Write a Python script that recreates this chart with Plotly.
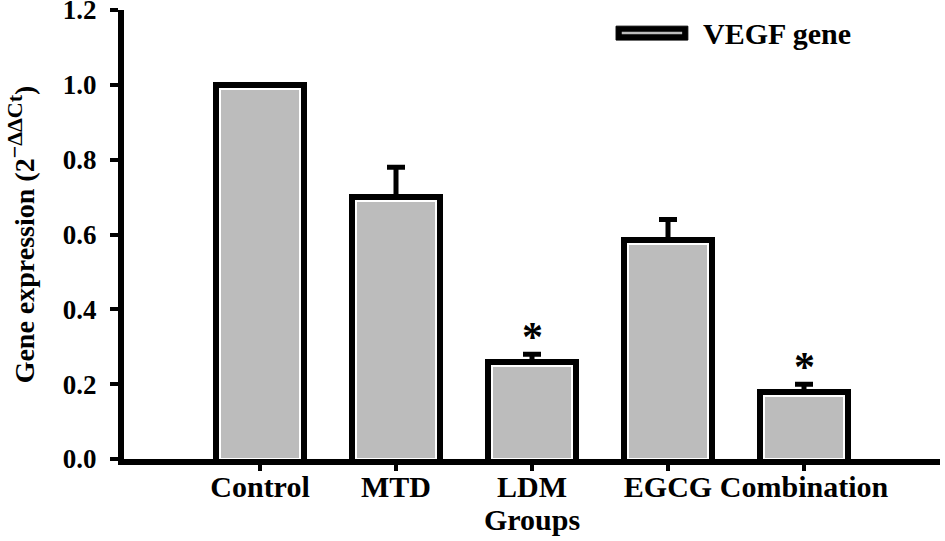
import plotly.graph_objects as go

groups = ["Control", "MTD", "LDM", "EGCG", "Combination"]
expression = [1.0, 0.70, 0.26, 0.585, 0.18]
err_up = [0.0, 0.08, 0.02, 0.055, 0.02]
signif = ["", "", "*", "", "*"]

FONT = "Liberation Serif"
GRAY = "#bcbcbc"
BAR_W = 0.64
PX_PER_UNIT = 374.0  # rough pixels per 1.0 on y, used for the white inner outline
PX_PER_CAT = 136.0


def bold(size):
    return dict(family=FONT, size=size, color="black", weight="bold")


fig = go.Figure()

# outer bar: thick black outline + error bar
fig.add_trace(go.Bar(
    x=groups, y=expression, width=BAR_W,
    marker=dict(color=GRAY, line=dict(color="black", width=6)),
    error_y=dict(type="data", symmetric=False, array=err_up,
                 arrayminus=[0] * len(groups), color="black",
                 thickness=5, width=9),
    showlegend=False, hoverinfo="x+y",
))

# inner bar: thin white line just inside the black outline
inset = 4.0 / PX_PER_UNIT
fig.add_trace(go.Bar(
    x=groups, y=[v - inset for v in expression], width=BAR_W - 8.0 / PX_PER_CAT,
    marker=dict(color=GRAY, line=dict(color="white", width=2)),
    showlegend=False, hoverinfo="skip",
))

for g, v, e, s in zip(groups, expression, err_up, signif):
    if s:
        fig.add_annotation(x=g, y=v + e, text=s, showarrow=False,
                           yanchor="bottom", yshift=-8, font=bold(42))

# legend drawn by hand
fig.add_shape(type="rect", xref="paper", yref="paper",
              x0=0.603, x1=0.691, y0=0.933, y1=0.964,
              fillcolor="black", line=dict(color="black", width=1))
fig.add_shape(type="line", xref="paper", yref="paper",
              x0=0.610, x1=0.684, y0=0.9485, y1=0.9485,
              line=dict(color=GRAY, width=2.5))
fig.add_annotation(xref="paper", yref="paper", x=0.707, y=0.948,
                   text="VEGF gene", showarrow=False,
                   xanchor="left", yanchor="middle", font=bold(30))

ytitle = "Gene expression (2<sup><span style='font-size:22px'>−ΔΔCt</span></sup>)"

fig.update_layout(
    width=945, height=541,
    margin=dict(l=124, r=5, t=10, b=82),
    paper_bgcolor="white", plot_bgcolor="white",
    barmode="overlay", bargap=0,
    font=dict(family=FONT, color="black"),
    xaxis=dict(
        range=[-1, 5], showline=True, linecolor="black", linewidth=6,
        ticks="outside", ticklen=6, tickwidth=4, tickcolor="black",
        showgrid=False, zeroline=False, automargin=False,
        tickfont=bold(30), ticklabelstandoff=-10,
        title=dict(text="Groups", standoff=4, font=bold(30)),
    ),
    yaxis=dict(
        range=[0, 1.2001], tickvals=[0, 0.2, 0.4, 0.6, 0.8, 1.0, 1.2],
        tickformat=".1f", ticklabeloverflow="allow",
        showline=True, linecolor="black", linewidth=6,
        ticks="outside", ticklen=8, tickwidth=4, tickcolor="black",
        showgrid=False, zeroline=False, automargin=False,
        tickfont=bold(27), ticklabelstandoff=8,
        title=dict(text=ytitle, standoff=22, font=bold(28)),
    ),
)

# the page body has an 8px default margin; drop it so the figure fills the window
fig.write_html("out.html", config={"displayModeBar": False},
               post_script="document.body.style.margin='0px';")
